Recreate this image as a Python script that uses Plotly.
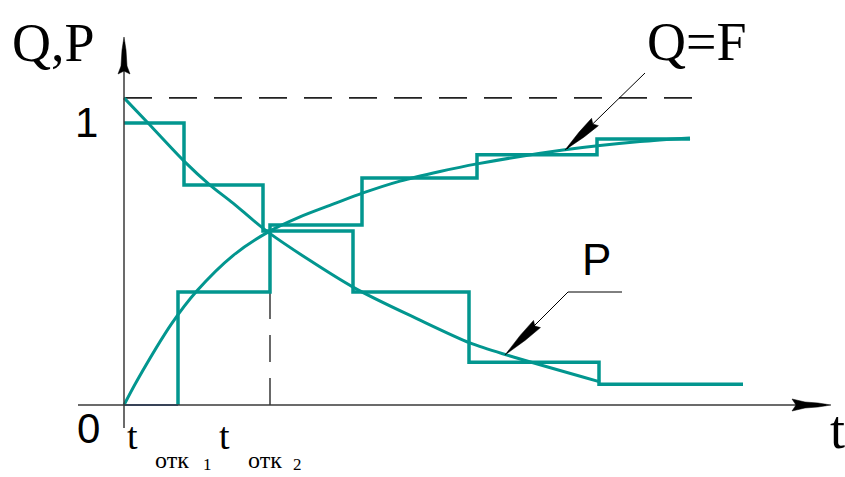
import plotly.graph_objects as go

# ---- readings of the diagram (t in arbitrary time units, Q/P as fractions) ----
# stepwise probability of failure-free operation P(t)
p_step_t = [0.00, 0.60, 1.39, 2.29, 3.45, 4.75, 6.19]
p_step_v = [1.000, 0.780, 0.617, 0.401, 0.152, 0.074]

# stepwise failure probability Q(t)
q_step_t = [0.00, 0.54, 1.46, 2.38, 3.53, 4.73, 5.66]
q_step_v = [0.000, 0.401, 0.638, 0.805, 0.887, 0.943]

# smooth P(t) curve points
p_curve_t = [0.00, 0.24, 0.60, 0.86, 1.09, 1.44, 2.29, 2.96, 3.46, 3.83, 4.76]
p_curve_v = [1.089, 1.000, 0.865, 0.780, 0.716, 0.613, 0.418, 0.301, 0.220, 0.177, 0.082]

# smooth Q(t) = F(t) curve points
q_curve_t = [0.00, 0.13, 0.48, 0.73, 1.09, 1.44, 1.76, 2.09, 2.39, 2.76, 3.16, 3.53, 4.39, 5.16, 5.66]
q_curve_v = [0.000, 0.086, 0.290, 0.405, 0.530, 0.613, 0.667, 0.712, 0.752, 0.794, 0.828, 0.855, 0.904, 0.934, 0.947]

asymptote_level = 1.089      # dashed upper level
asymptote_end_t = 5.68
t_otk2 = 1.46                # moment of the second failure (dashed drop line)

TEAL = "#02968f"
AXIS = "#3a3a3a"
W, H = 845, 477

# data <-> pixel mapping (origin at pixel (124, 405), 100 px per t unit, 282 px per unit of Q/P)
X0, Y0, SX, SY = 124, 405, 100.0, 282.0
x_range = [(0 - X0) / SX, (W - X0) / SX]
y_range = [(Y0 - H) / SY, Y0 / SY]


def dx(px):
    return (px - X0) / SX


def dy(py):
    return (Y0 - py) / SY


def steps(edges, levels):
    xs, ys = [], []
    for i, v in enumerate(levels):
        xs += [edges[i], edges[i + 1]]
        ys += [v, v]
    return xs, ys


fig = go.Figure()

# dashed asymptote
fig.add_trace(go.Scatter(x=[0, asymptote_end_t], y=[asymptote_level, asymptote_level], mode="lines",
                         line=dict(color="#222222", width=1.6, dash="28px,17px"), hoverinfo="skip"))
# dashed drop line at t_otk2
fig.add_trace(go.Scatter(x=[t_otk2, t_otk2], y=[q_step_v[1], 0], mode="lines",
                         line=dict(color="#444444", width=1.6, dash="27px,16px"), hoverinfo="skip"))

# stepwise P
px_, py_ = steps(p_step_t, p_step_v)
fig.add_trace(go.Scatter(x=px_, y=py_, mode="lines", line=dict(color=TEAL, width=3.5), hoverinfo="skip"))

# stepwise Q (the zero segment is drawn along the axis)
qx, qy = steps(q_step_t, q_step_v)
fig.add_trace(go.Scatter(x=qx[:2], y=qy[:2], mode="lines", line=dict(color="#3560b0", width=2.2), hoverinfo="skip"))
fig.add_trace(go.Scatter(x=qx[1:], y=qy[1:], mode="lines", line=dict(color=TEAL, width=3.5), hoverinfo="skip"))

# smooth curves
fig.add_trace(go.Scatter(x=p_curve_t, y=p_curve_v, mode="lines",
                         line=dict(color=TEAL, width=3, shape="spline", smoothing=0.8), hoverinfo="skip"))
fig.add_trace(go.Scatter(x=q_curve_t, y=q_curve_v, mode="lines",
                         line=dict(color=TEAL, width=3, shape="spline", smoothing=0.8), hoverinfo="skip"))

shapes = []


def poly(points_px, color="#000000"):
    path = "M " + " L ".join(f"{dx(x):.4f},{dy(y):.4f}" for x, y in points_px) + " Z"
    shapes.append(dict(type="path", path=path, xref="x", yref="y", fillcolor=color,
                       line=dict(color=color, width=0.5)))


def seg(x1, y1, x2, y2, width=1.0, color="#000000"):
    shapes.append(dict(type="line", x0=dx(x1), y0=dy(y1), x1=dx(x2), y1=dy(y2), xref="x", yref="y",
                       line=dict(color=color, width=width)))


def leader_head(tx, ty, bx, by, half=4.0):
    # long narrow filled arrowhead, tip at (tx, ty), base centred at (bx, by)
    L = ((bx - tx) ** 2 + (by - ty) ** 2) ** 0.5
    ux, uy = (bx - tx) / L, (by - ty) / L
    nx, ny = -uy, ux
    mx, my = tx + ux * L * 0.55, ty + uy * L * 0.55
    poly([(tx, ty),
          (mx + nx * half * 0.7, my + ny * half * 0.7),
          (bx + nx * half, by + ny * half),
          (bx - ux * 3, by - uy * 3),
          (bx - nx * half, by - ny * half),
          (mx - nx * half * 0.7, my - ny * half * 0.7)])


# coordinate axes
seg(78, 405, 826, 405, width=1.5, color=AXIS)
seg(124, 428, 124, 42, width=1.5, color=AXIS)
poly([(124, 37), (126, 50), (127, 66), (130, 74), (124, 71), (118, 74), (121, 66), (122, 50)])
poly([(831, 405), (818, 403), (805, 402), (792, 399), (796, 405), (792, 411), (805, 408), (818, 407)])

# leader for Q=F
seg(645, 73, 567, 149, width=1.0)
leader_head(565, 150, 595, 122, half=5)
# leader for P
seg(568, 292, 622, 292, width=1.0)
seg(568, 292, 507, 353, width=1.0)
leader_head(505, 355, 537, 324, half=5)

SERIF = "Liberation Serif, Times New Roman, serif"
SANS = "Liberation Sans, Arial, sans-serif"


def label(text, x, y, size, family, xanchor="center", yanchor="middle"):
    return dict(text=text, x=dx(x), y=dy(y), xref="x", yref="y", showarrow=False,
                xanchor=xanchor, yanchor=yanchor, font=dict(family=family, size=size, color="#000000"))


annotations = [
    label("Q,P", 10, 43, 54, SERIF, xanchor="left"),
    label("Q=F", 696, 42, 54, SERIF),
    label("1", 86, 122, 42, SANS),
    label("0", 88, 428, 42, SANS),
    label("P", 596, 259, 44, SANS),
    label("t", 837, 430, 54, SERIF),
    label("t", 132, 436, 38, SERIF),
    label("t", 224, 436, 38, SERIF),
    label("отк", 172, 460, 24, SERIF),
    label("отк", 265, 460, 24, SERIF),
    label("1", 207, 464, 17, SERIF),
    label("2", 297, 464, 17, SERIF),
]

fig.update_layout(
    width=W, height=H, margin=dict(l=0, r=0, t=0, b=0),
    paper_bgcolor="white", plot_bgcolor="white", showlegend=False,
    xaxis=dict(range=x_range, visible=False, fixedrange=True),
    yaxis=dict(range=y_range, visible=False, fixedrange=True),
    shapes=shapes, annotations=annotations,
)

fig.write_html("out.html")
